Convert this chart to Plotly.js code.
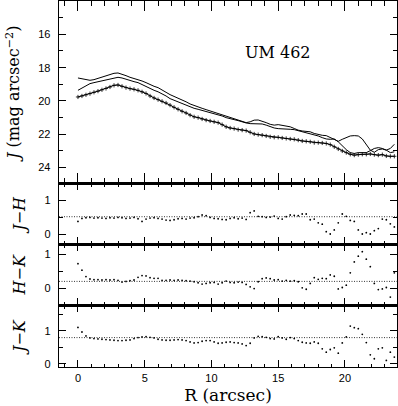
<!DOCTYPE html>
<html>
<head>
<meta charset="utf-8">
<script src="https://cdn.plot.ly/plotly-3.0.1.min.js"></script>
<style>
  html, body { margin: 0; padding: 0; background: #fff; }
  #chart { width: 398px; height: 406px; }
</style>
</head>
<body>
<div id="chart"></div>
<script>
// radius (arcsec), sampled every 0.3"
var radius = [0,0.3,0.6,0.9,1.2,1.5,1.8,2.1,2.4,2.7,
              3,3.3,3.6,3.9,4.2,4.5,4.8,5.1,5.4,5.7,
              6,6.3,6.6,6.9,7.2,7.5,7.8,8.1,8.4,8.7,
              9,9.3,9.6,9.9,10.2,10.5,10.8,11.1,11.4,11.7,
              12,12.3,12.6,12.9,13.2,13.5,13.8,14.1,14.4,14.7,
              15,15.3,15.6,15.9,16.2,16.5,16.8,17.1,17.4,17.7,
              18,18.3,18.6,18.9,19.2,19.5,19.8,20.1,20.4,20.7,
              21,21.3,21.6,21.9,22.2,22.5,22.8,23.1,23.4,23.7];

// surface brightness profiles (mag arcsec^-2)
var profileJ = [19.76,19.70,19.63,19.56,19.48,19.41,19.33,19.25,19.16,19.06,
                19.04,19.12,19.20,19.26,19.30,19.36,19.45,19.55,19.70,19.82,
                19.92,20.02,20.12,20.25,20.38,20.50,20.62,20.72,20.85,20.95,
                21.00,21.08,21.15,21.20,21.25,21.30,21.42,21.55,21.62,21.66,
                21.72,21.75,21.78,21.88,21.98,22.02,22.05,22.10,22.15,22.18,
                22.18,22.22,22.25,22.28,22.30,22.35,22.40,22.42,22.45,22.50,
                22.50,22.52,22.55,22.62,22.75,22.88,23.00,23.10,23.20,23.25,
                23.22,23.20,23.20,23.18,23.22,23.25,23.22,23.30,23.32,23.32];

var profileK = [18.62,18.66,18.72,18.76,18.72,18.64,18.56,18.48,18.42,18.34,
                18.32,18.38,18.48,18.58,18.64,18.70,18.80,18.90,19.02,19.12,
                19.20,19.32,19.48,19.62,19.72,19.82,19.92,20.05,20.18,20.28,
                20.36,20.44,20.52,20.60,20.66,20.72,20.82,20.92,21.00,21.05,
                21.12,21.22,21.30,21.25,21.15,21.14,21.20,21.30,21.40,21.45,
                21.42,21.45,21.50,21.55,21.65,21.75,21.80,21.82,21.85,21.95,
                22.02,22.06,22.08,22.20,22.35,22.42,22.30,22.18,22.10,22.08,
                22.10,22.28,22.62,22.95,23.08,22.92,22.88,22.95,22.85,22.60];

var profileH = [19.36,19.22,19.08,18.96,18.90,18.84,18.78,18.72,18.66,18.60,
                18.58,18.62,18.70,18.80,18.84,18.90,19.02,19.14,19.26,19.36,
                19.45,19.56,19.70,19.86,19.96,20.06,20.16,20.26,20.36,20.44,
                20.50,20.56,20.62,20.68,20.74,20.80,20.90,21.00,21.08,21.12,
                21.18,21.26,21.32,21.36,21.36,21.36,21.38,21.45,21.55,21.62,
                21.66,21.66,21.68,21.70,21.72,21.78,21.84,21.90,21.96,22.02,
                22.10,22.20,22.28,22.30,22.28,22.45,22.70,22.92,23.10,23.15,
                23.10,23.08,23.10,22.98,22.85,22.80,22.85,22.95,23.10,23.05];

// colour profiles
var colorJH = [0.38,0.47,0.49,0.50,0.48,0.49,0.48,0.47,0.49,0.48,
               0.50,0.49,0.47,0.48,0.50,0.46,0.38,0.45,0.48,0.49,
               0.47,0.45,0.42,0.41,0.43,0.46,0.47,0.45,0.48,0.49,
               0.52,0.57,0.55,0.50,0.47,0.46,0.44,0.43,0.47,0.49,
               0.46,0.48,0.44,0.64,0.69,0.53,0.52,0.50,0.51,0.54,
               0.47,0.45,0.52,0.57,0.56,0.55,0.60,0.60,0.43,0.45,
               0.34,0.30,0.08,0.01,0.13,0.34,0.60,0.53,0.41,0.38,
               0.13,0.01,0.05,0.01,0.11,0.17,0.45,0.43,0.31,0.22];

var colorHK = [0.73,0.54,0.35,0.28,0.26,0.26,0.25,0.26,0.25,0.26,
               0.24,0.19,0.21,0.23,0.25,0.33,0.38,0.37,0.32,0.30,
               0.30,0.24,0.24,0.25,0.24,0.25,0.24,0.23,0.22,0.20,
               0.17,0.13,0.15,0.17,0.18,0.13,0.17,0.22,0.18,0.17,
               0.19,0.18,0.12,0.05,0.00,0.20,0.29,0.31,0.29,0.25,
               0.26,0.22,0.24,0.22,0.23,0.20,0.02,-0.02,0.15,0.32,
               0.27,0.30,0.29,0.40,0.36,-0.01,0.03,0.10,0.46,0.78,
               0.95,1.08,0.86,0.64,0.15,-0.03,-0.01,0.03,-0.25,0.46];

var colorJK = [1.10,0.96,0.84,0.78,0.76,0.75,0.74,0.73,0.72,0.71,
               0.70,0.70,0.71,0.72,0.76,0.79,0.81,0.82,0.80,0.78,
               0.74,0.72,0.71,0.71,0.72,0.73,0.72,0.70,0.66,0.63,
               0.64,0.68,0.70,0.70,0.66,0.62,0.63,0.65,0.66,0.64,
               0.63,0.60,0.55,0.62,0.78,0.83,0.82,0.80,0.76,0.75,
               0.82,0.78,0.74,0.79,0.76,0.70,0.65,0.63,0.62,0.66,
               0.62,0.45,0.35,0.43,0.48,0.32,0.63,0.81,1.14,1.09,
               1.06,0.89,0.64,0.27,0.15,0.45,0.48,0.10,0.35,0.20];

// mean colours (dotted lines)
var meanJH = 0.52;
var meanHK = 0.21;
var meanJK = 0.79;

var serif = '"DejaVu Serif", "Liberation Serif", serif';
var sans = '"Liberation Sans", Arial, sans-serif';

var data = [
  {x: radius, y: profileK, mode: 'lines', line: {color: 'black', width: 1}, xaxis: 'x', yaxis: 'y'},
  {x: radius, y: profileH, mode: 'lines', line: {color: 'black', width: 1}, xaxis: 'x', yaxis: 'y'},
  {x: radius, y: profileJ, mode: 'lines+markers', line: {color: 'black', width: 1},
   marker: {symbol: 'cross-thin', size: 3, line: {color: 'black', width: 0.8}}, xaxis: 'x', yaxis: 'y'},
  {x: radius, y: colorJH, mode: 'markers', marker: {color: 'black', size: 1.8}, xaxis: 'x2', yaxis: 'y2'},
  {x: radius, y: colorHK, mode: 'markers', marker: {color: 'black', size: 1.8}, xaxis: 'x3', yaxis: 'y3'},
  {x: radius, y: colorJK, mode: 'markers', marker: {color: 'black', size: 1.8}, xaxis: 'x4', yaxis: 'y4'}
];

function xAxis(anchor, big, labels) {
  var ax = {
    anchor: anchor, domain: [0, 1], range: [-1.42, 23.9],
    showgrid: false, zeroline: false, showline: true, linewidth: 1.3, linecolor: 'black',
    mirror: 'allticks', ticks: 'inside', ticklen: big ? 10 : 7, tickwidth: 1, tickcolor: 'black',
    tick0: 0, dtick: 5, showticklabels: labels,
    minor: {ticks: 'inside', dtick: 1, ticklen: big ? 5 : 3.5, tickwidth: 1, tickcolor: 'black'}
  };
  if (labels) {
    ax.tickfont = {family: sans, size: 11, color: 'black'};
    ax.title = {text: 'R (arcsec)', font: {family: serif, size: 17, color: 'black'}, standoff: 6};
  }
  return ax;
}

function yAxis(anchor, dom, rng, vals, minorStep, title) {
  return {
    anchor: anchor, domain: dom, range: rng,
    showgrid: false, zeroline: false, showline: true, linewidth: 1.3, linecolor: 'black',
    mirror: 'allticks', ticks: 'inside', ticklen: 7, tickwidth: 1, tickcolor: 'black',
    tickvals: vals, ticklabelstandoff: 5,
    tickfont: {family: sans, size: 11, color: 'black'},
    minor: {ticks: 'inside', dtick: minorStep, tick0: 0, ticklen: 4, tickwidth: 1, tickcolor: 'black'},
    title: {text: title, font: {family: serif, size: 16, color: 'black'}, standoff: 14}
  };
}

var layout = {
  width: 398, height: 406,
  margin: {l: 59, r: 1, t: 1, b: 39},
  showlegend: false,
  paper_bgcolor: 'white', plot_bgcolor: 'white',
  xaxis: xAxis('y', true, false),
  xaxis2: xAxis('y2', false, false),
  xaxis3: xAxis('y3', false, false),
  xaxis4: xAxis('y4', false, true),
  yaxis: yAxis('x', [0.5015, 1], [24.95, 14], [16, 18, 20, 22, 24], 1, '<i>J</i> (mag arcsec<sup>−2</sup>)'),
  yaxis2: yAxis('x2', [0.3355, 0.5015], [-0.29, 1.5], [0, 1], 0.5, '<i>J</i>−<i>H</i>'),
  yaxis3: yAxis('x3', [0.1687, 0.3355], [-0.49, 1.3], [0, 1], 0.5, '<i>H</i>−<i>K</i>'),
  yaxis4: yAxis('x4', [0, 0.1687], [-0.1, 1.77], [0, 1], 0.5, '<i>J</i>−<i>K</i>'),
  shapes: [
    {type: 'line', xref: 'x2 domain', yref: 'y2', x0: 0, x1: 1, y0: meanJH, y1: meanJH, line: {color: 'black', width: 0.8, dash: '1px,1.5px'}},
    {type: 'line', xref: 'x3 domain', yref: 'y3', x0: 0, x1: 1, y0: meanHK, y1: meanHK, line: {color: 'black', width: 0.8, dash: '1px,1.5px'}},
    {type: 'line', xref: 'x4 domain', yref: 'y4', x0: 0, x1: 1, y0: meanJK, y1: meanJK, line: {color: 'black', width: 0.8, dash: '1px,1.5px'}}
  ],
  annotations: [
    {text: 'UM 462', xref: 'paper', yref: 'paper', x: 0.75, y: 0.89, showarrow: false,
     font: {family: serif, size: 16, color: 'black'}}
  ]
};

Plotly.newPlot('chart', data, layout, {staticPlot: true, displayModeBar: false});
</script>
</body>
</html>
